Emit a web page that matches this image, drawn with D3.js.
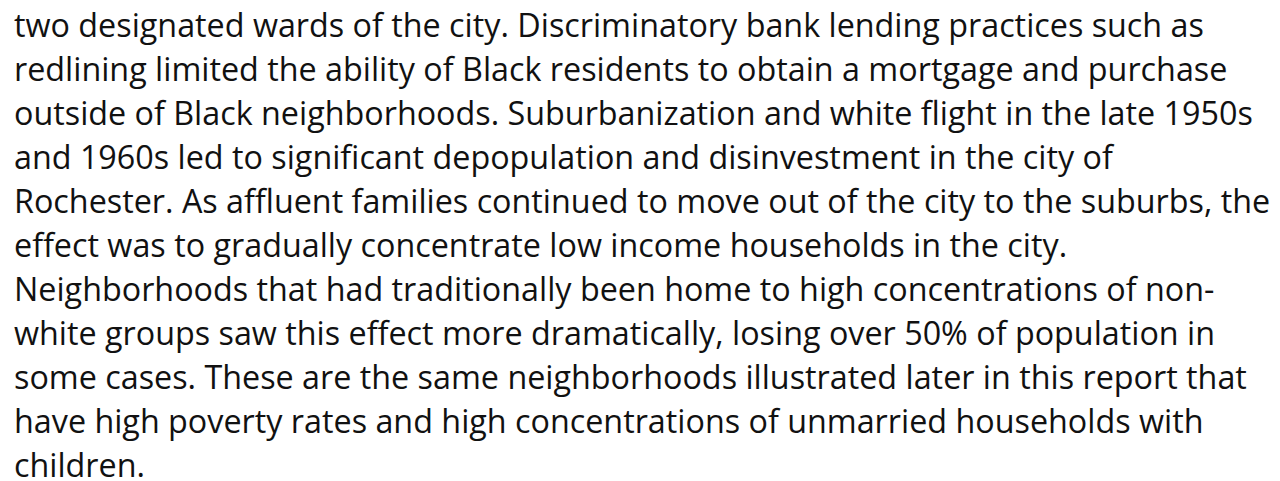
<!DOCTYPE html>
<html>
<head>
<meta charset="utf-8">
<script src="https://cdn.jsdelivr.net/npm/d3@7"></script>
<style>
  body { margin: 0; background: #fff; }
</style>
</head>
<body>
<script>
// paragraph, one entry per rendered line
var lines = [
  "two designated wards of the city. Discriminatory bank lending practices such as",
  "redlining limited the ability of Black residents to obtain a mortgage and purchase",
  "outside of Black neighborhoods. Suburbanization and white flight in the late 1950s",
  "and 1960s led to significant depopulation and disinvestment in the city of",
  "Rochester. As affluent families continued to move out of the city to the suburbs, the",
  "effect was to gradually concentrate low income households in the city.",
  "Neighborhoods that had traditionally been home to high concentrations of non-",
  "white groups saw this effect more dramatically, losing over 50% of population in",
  "some cases. These are the same neighborhoods illustrated later in this report that",
  "have high poverty rates and high concentrations of unmarried households with",
  "children."
];

var width = 1280, height = 481;

var svg = d3.select('body').append('svg')
    .attr('width', width)
    .attr('height', height);

// baselines, one per line
var y = d3.scaleLinear()
    .domain([0, lines.length - 1])
    .range([37, 37 + 44 * (lines.length - 1)]);

svg.selectAll('text')
    .data(lines)
    .enter().append('text')
    .attr('x', 14)
    .attr('y', function(d, i) { return y(i); })
    .attr('font-family', 'Open Sans')
    .attr('font-size', 32.3)
    .attr('fill', '#111')
    .text(function(d) { return d; });
</script>
</body>
</html>
